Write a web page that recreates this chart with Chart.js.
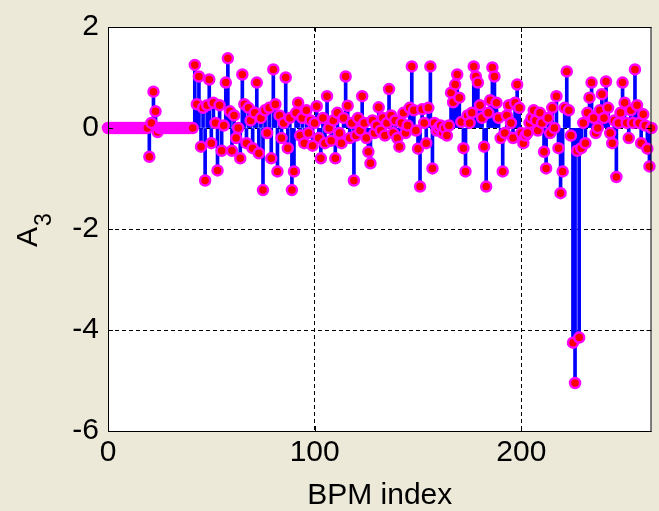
<!DOCTYPE html>
<html>
<head>
<meta charset="utf-8">
<script src="https://cdn.jsdelivr.net/npm/chart.js@4.4.1/dist/chart.umd.min.js"></script>
<style>
  html, body { margin: 0; padding: 0; background: #ECE9D8; }
  #wrap { width: 659px; height: 511px; }
</style>
</head>
<body>
<div id="wrap"><canvas id="c" width="659" height="511"></canvas></div>
<script>
// A3 coefficient for each BPM (array position = BPM index, starting at 0)
const a3Values = [
  0, 0, 0, 0, 0, 0, 0, 0, 0, 0,
  0, 0, 0, 0, 0, 0, 0, 0, 0, 0,
  -0.57, 0.1, 0.72, 0.33, -0.08, 0, 0, 0, 0, 0,
  0, 0, 0, 0, 0, 0, 0, 0, 0, 0,
  0, 0, 1.25, 0.47, 1.02, -0.37, 0.4, -1.04, 0.45, 0.96,
  -0.3, 0.5, 0.1, -0.84, 0.45, -0.45, 0.05, 0.9, 1.38, 0.33,
  -0.45, 0.25, -0.2, 0.0, -0.6, 1.06, 0.47, -0.3, 0.4, 0.15,
  -0.4, 0.3, 0.9, -0.5, 0.2, -1.23, 0.35, -0.1, 0.4, -0.6,
  1.16, 0.47, -0.86, 0.25, -0.2, 0.1, 1.0, -0.4, 0.2, -1.23,
  -0.86, 0.3, 0.5, -0.15, 0.2, -0.3, 0.35, -0.1, 0.15, -0.35,
  0.1, 0.43, -0.2, -0.6, 0.2, -0.3, 0.63, 0.0, -0.25, 0.15,
  -0.6, 0.3, -0.1, -0.3, 0.2, 1.02, 0.44, -0.2, 0.1, -1.04,
  -0.15, 0.2, -0.05, 0.63, 0.1, -0.2, -0.47, -0.7, 0.15, -0.1,
  0.05, 0.41, -0.05, 0.2, -0.15, 0.1, 0.77, 0.25, -0.1, 0.15,
  -0.2, -0.37, 0.1, 0.3, -0.1, 0.05, 0.4, 1.22, 0.35, -0.05,
  -0.41, -1.16, 0.37, 0.1, -0.3, 0.4, 1.22, -0.8, 0.1, -0.05,
  0.0, 0.05, -0.1, 0.0, -0.15, 0.05, 0.7, 0.51, 0.86, 1.06,
  0.6, 0.12, -0.4, -0.86, 0.25, 0.1, 0.3, 1.22, 1.02, 0.9,
  0.45, 0.2, -0.37, -1.16, 0.3, 0.55, 1.2, 1.02, 0.5, 0.2,
  -0.2, -0.86, -0.1, 0.25, 0.45, 0.1, -0.2, 0.5, 0.86, 0.4,
  -0.1, -0.3, -0.15, -0.1, 0.1, 0.2, 0.35, 0.15, -0.05, 0.3,
  0.1, -0.47, -0.8, 0.2, -0.1, 0.4, 0.0, 0.63, -0.4, -1.29,
  -0.86, 0.4, 1.12, 0.35, -0.15, -4.25, -5.05, -0.45, -4.15, -0.4,
  0.1, -0.3, 0.3, 0.6, 0.9, 0.2, -0.1, 0.0, 0.35, 0.67,
  0.2, 0.92, 0.4, -0.1, -0.3, 0.15, -0.97, 0.1, 0.3, 0.9,
  0.5, 0.1, -0.2, 0.35, 0.1, 1.16, 0.45, 0.1, -0.3, 0.27,
  0.05, -0.41, -0.76, 0.0
];
const xTickValues = [0, 100, 200];
const yTickValues = [-6, -4, -2, 0, 2];
const xRange = [0, 263];
const yRange = [-6, 2];

const points = a3Values.map((v, i) => ({ x: i, y: v }));
const FONT = "'Liberation Sans', Arial, sans-serif";

// White axes box behind the data, black frame and inward ticks on top
const axesBox = {
  id: 'axesBox',
  beforeDraw(chart) {
    const { ctx, chartArea: a } = chart;
    ctx.save();
    ctx.fillStyle = '#FFFFFF';
    ctx.fillRect(a.left, a.top, a.right - a.left, a.bottom - a.top);
    ctx.restore();
  },
  afterDraw(chart) {
    const { ctx, chartArea: a, scales } = chart;
    ctx.save();
    ctx.strokeStyle = '#000000';
    ctx.lineWidth = 1;
    ctx.strokeRect(a.left + 0.5, a.top + 0.5, a.right - a.left - 1, a.bottom - a.top);
    ctx.beginPath();
    const tl = 5;
    yTickValues.forEach(v => {
      const y = Math.round(scales.y.getPixelForValue(v)) + 0.5;
      ctx.moveTo(a.left, y); ctx.lineTo(a.left + tl, y);
      ctx.moveTo(a.right, y); ctx.lineTo(a.right - tl, y);
    });
    xTickValues.forEach(v => {
      const x = Math.round(scales.x.getPixelForValue(v)) + 0.5;
      ctx.moveTo(x, a.bottom); ctx.lineTo(x, a.bottom - tl);
      ctx.moveTo(x, a.top); ctx.lineTo(x, a.top + tl);
    });
    ctx.stroke();

    // y-axis label: A with subscript 3, rotated
    ctx.fillStyle = '#000000';
    ctx.translate(37, 247);
    ctx.rotate(-Math.PI / 2);
    ctx.textBaseline = 'alphabetic';
    ctx.textAlign = 'left';
    ctx.font = '30px ' + FONT;
    ctx.fillText('A', 0, 0);
    const w = ctx.measureText('A').width;
    ctx.font = '23px ' + FONT;
    ctx.fillText('3', w + 1, 14);
    ctx.restore();
  }
};

new Chart(document.getElementById('c'), {
  type: 'scatter',
  data: {
    datasets: [
      {
        type: 'bar',
        label: 'stem',
        data: points,
        backgroundColor: '#0000FF',
        borderWidth: 0,
        barThickness: 3,
        grouped: false,
        clip: false,
        order: 2
      },
      {
        type: 'scatter',
        label: 'A3',
        data: points,
        pointRadius: 5,
        pointBorderWidth: 2.5,
        pointBackgroundColor: '#FF0000',
        pointBorderColor: '#FF00FF',
        clip: false,
        order: 1
      }
    ]
  },
  plugins: [axesBox],
  options: {
    responsive: false,
    animation: false,
    devicePixelRatio: 1,
    events: [],
    layout: { padding: { top: 22, right: 6, left: 0, bottom: 0 } },
    plugins: { legend: { display: false }, tooltip: { enabled: false } },
    scales: {
      x: {
        type: 'linear',
        offset: false,
        min: xRange[0],
        max: xRange[1],
        afterBuildTicks: s => { s.ticks = xTickValues.map(v => ({ value: v })); },
        afterFit: s => { s.height = 80; },
        grid: { color: '#000000', lineWidth: 1, drawTicks: false, offset: false },
        border: { display: false, dash: [4, 3] },
        ticks: { color: '#000000', font: { family: FONT, size: 30 }, padding: 4, maxRotation: 0 },
        title: { display: true, text: 'BPM index', color: '#000000', font: { family: FONT, size: 30 }, padding: { top: 0, bottom: -3 } }
      },
      y: {
        type: 'linear',
        min: yRange[0],
        max: yRange[1],
        afterBuildTicks: s => { s.ticks = yTickValues.map(v => ({ value: v })); },
        afterFit: s => { s.width = 108; },
        grid: { color: '#000000', lineWidth: 1, drawTicks: false },
        border: { display: false, dash: [4, 3] },
        ticks: { color: '#000000', font: { family: FONT, size: 30 }, padding: 9 }
      }
    }
  }
});
</script>
</body>
</html>
